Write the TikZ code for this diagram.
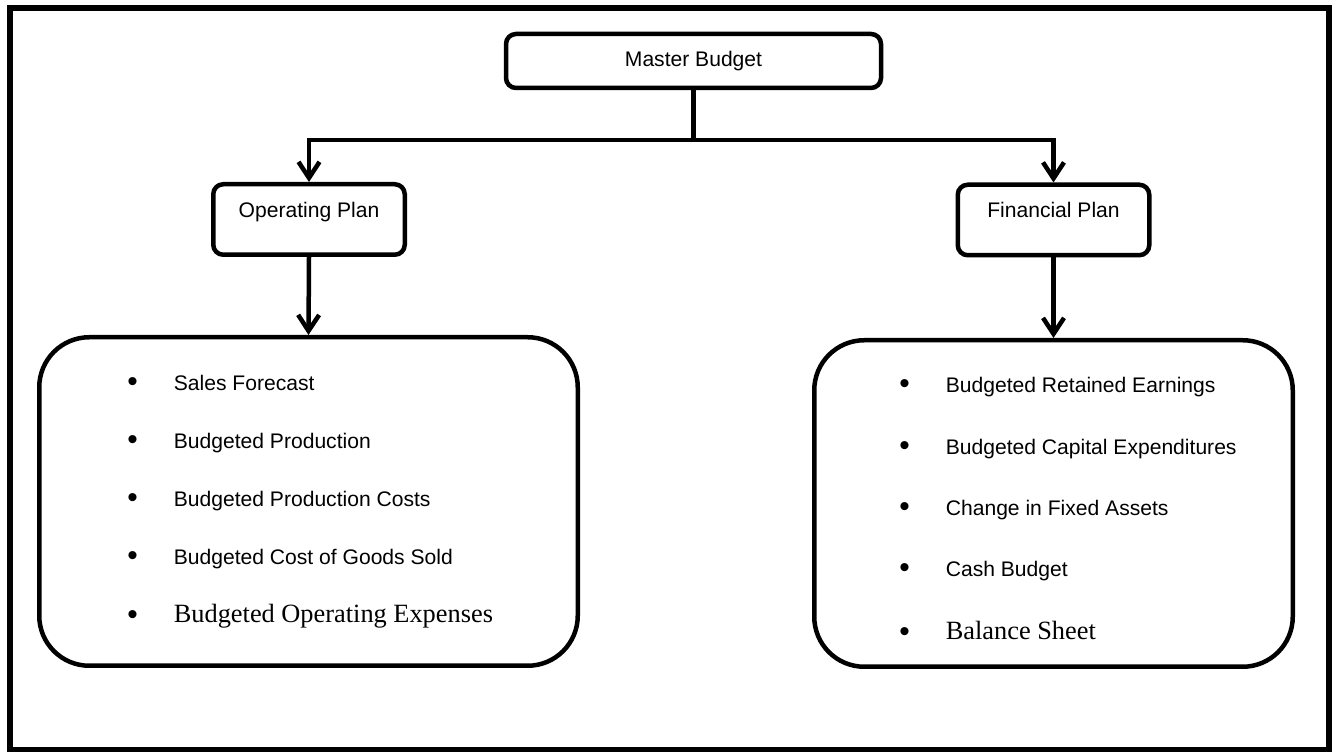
\documentclass[tikz,border=0pt]{standalone}
\usepackage{fontspec}
\setmainfont{Liberation Sans}
\newfontfamily\timesfont{Liberation Serif}
\usetikzlibrary{arrows.meta}

% bullet plus the gap before the entry text
\newcommand\itemdot{\makebox[0.93cm][l]{\raisebox{-0.03cm}{\normalfont\fontsize{17}{17}\selectfont\textbullet}}}

\begin{document}
\begin{tikzpicture}[line join=miter,
  box/.style={draw,line width=0.09cm,rounded corners=0.2cm,inner sep=0pt,
    font=\fontsize{12}{14}\selectfont},
  plan/.style={box,minimum width=3.83cm,minimum height=1.41cm,
    text height=0.32cm,text depth=0.40cm},
  listbox/.style={draw,line width=0.09cm,rounded corners=1cm},
  entry/.style={anchor=base west,inner sep=0pt,font=\fontsize{12}{14}\selectfont},
  serifentry/.style={entry,font=\fontsize{15}{17}\timesfont},
  conn/.style={line width=0.09cm},
  arr/.style={conn,-{Straight Barb[length=0.32cm,width=0.42cm]}}]
  \useasboundingbox (0,0) rectangle (26.64,15.04);
  \draw[line width=0.12cm] (0.2,0.04) rectangle (26.58,14.88);

  % boxes
  \node[box,minimum width=7.5cm,minimum height=1.08cm] (master) at (13.87,13.82) {Master Budget};
  \node[plan] (oplan) at (6.18,10.65) {Operating Plan};
  \node[plan] (fplan) at (21.07,10.64) {Financial Plan};
  \node[listbox,minimum width=10.77cm,minimum height=6.57cm] (oplist) at (6.17,5.01) {};
  \node[listbox,minimum width=9.57cm,minimum height=6.53cm] (fplist) at (21.07,4.97) {};

  % connectors
  \draw[conn] (master.south) -- ++(0,-1.0) coordinate (split);
  \draw[arr] (split) -| (oplan.north);
  \draw[arr] (split) -| (fplan.north);
  \draw[arr] (oplan.south) -- (oplist.north);
  \draw[arr] (fplan.south) -- (fplist.north);

  % operating plan entries
  \node[entry] (op1) at (2.54,7.23) {\itemdot Sales Forecast};
  \node[entry] (op2) at (2.54,6.07) {\itemdot Budgeted Production};
  \node[entry] (op3) at (2.54,4.91) {\itemdot Budgeted Production Costs};
  \node[entry] (op4) at (2.54,3.75) {\itemdot Budgeted Cost of Goods Sold};
  \node[serifentry] (op5) at (2.54,2.58) {\itemdot Budgeted Operating Expenses};

  % financial plan entries
  \node[entry] (fp1) at (17.98,7.19) {\itemdot Budgeted Retained Earnings};
  \node[entry] (fp2) at (17.98,5.95) {\itemdot Budgeted Capital Expenditures};
  \node[entry] (fp3) at (17.98,4.73) {\itemdot Change in Fixed Assets};
  \node[entry] (fp4) at (17.98,3.51) {\itemdot Cash Budget};
  \node[serifentry] (fp5) at (17.98,2.24) {\itemdot Balance Sheet};
\end{tikzpicture}
\end{document}
